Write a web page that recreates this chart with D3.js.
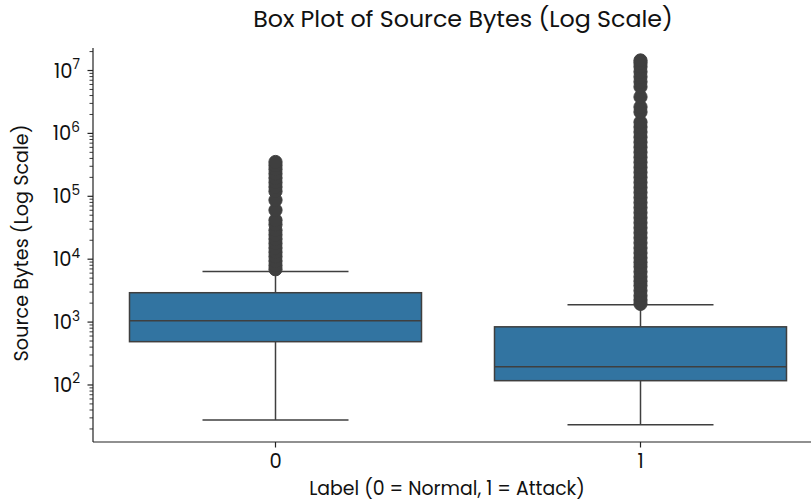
<!DOCTYPE html>
<html>
<head>
<meta charset="utf-8">
<script src="https://cdn.jsdelivr.net/npm/d3@7"></script>
<style>
  html, body { margin: 0; padding: 0; background: #fff; }
  svg { display: block; font-family: Poppins, Inter, "Open Sans", sans-serif; }
</style>
</head>
<body>
<svg id="chart" width="811" height="504"></svg>
<script>
// Categories and five-number summaries per label
const categories = ["0", "1"];
const q1Values      = [488, 117];
const medianValues  = [1050, 195];
const q3Values      = [2930, 841];
const whiskerLow    = [27.8, 23.4];
const whiskerHigh   = [6400, 1885];

// Flier values (points beyond the whiskers)
const fliersNormal = [
  6920, 7940, 9330, 11000, 12900, 15100, 17800, 20900, 24500, 28800,
  35500, 41700, 60300, 87100, 120000, 141000, 166000, 195000, 229000,
  269000, 309000, 351000
];
const fliersAttack = [
  1950, 2240, 2630, 3160, 3800, 4470, 5250, 6310, 7590, 8910,
  10500, 12600, 15100, 18200, 21900, 26300, 31600, 38000, 45700, 55000,
  66100, 79400, 95500, 115000, 138000, 166000, 200000, 240000, 288000,
  347000, 417000, 501000, 603000, 724000, 871000, 1050000, 1260000,
  1510000, 2190000, 2630000, 3800000, 5500000, 6610000, 7940000,
  9550000, 11500000, 13200000, 14450000
];
const fliers = [fliersNormal, fliersAttack];

// Y-axis tick labels (powers of ten)
const yTickExponents = [2, 3, 4, 5, 6, 7];

const titleText = "Box Plot of Source Bytes (Log Scale)";
const xLabelText = "Label (0 = Normal, 1 = Attack)";
const yLabelText = "Source Bytes (Log Scale)";

const boxes = categories.map((c, i) => ({
  cat: c, q1: q1Values[i], med: medianValues[i], q3: q3Values[i],
  lo: whiskerLow[i], hi: whiskerHigh[i], fliers: fliers[i]
}));

const svg = d3.select("#chart");
const plotLeft = 93, plotRight = 823, plotTop = 48, plotBottom = 442;
const lineColor = "#3f3f3f";
const boxColor = "#3274a1";
const tickFont = 19.5;

const x = d3.scaleBand().domain(categories).range([plotLeft, plotRight]).padding(0);
const y = d3.scaleLog().domain([12.4, 2.28e7]).range([plotBottom, plotTop]);

const bw = x.bandwidth() * 0.8;
const capW = bw / 2;
const cx = d => x(d.cat) + x.bandwidth() / 2;

const plot = svg.append("g");

// whiskers
plot.selectAll(".whisker-lo").data(boxes).join("line")
  .attr("x1", cx).attr("x2", cx)
  .attr("y1", d => y(d.q1)).attr("y2", d => y(d.lo))
  .attr("stroke", lineColor).attr("stroke-width", 1.5);
plot.selectAll(".whisker-hi").data(boxes).join("line")
  .attr("x1", cx).attr("x2", cx)
  .attr("y1", d => y(d.q3)).attr("y2", d => y(d.hi))
  .attr("stroke", lineColor).attr("stroke-width", 1.5);

// caps
plot.selectAll(".cap-lo").data(boxes).join("line")
  .attr("x1", d => cx(d) - capW / 2).attr("x2", d => cx(d) + capW / 2)
  .attr("y1", d => y(d.lo)).attr("y2", d => y(d.lo))
  .attr("stroke", lineColor).attr("stroke-width", 1.5);
plot.selectAll(".cap-hi").data(boxes).join("line")
  .attr("x1", d => cx(d) - capW / 2).attr("x2", d => cx(d) + capW / 2)
  .attr("y1", d => y(d.hi)).attr("y2", d => y(d.hi))
  .attr("stroke", lineColor).attr("stroke-width", 1.5);

// boxes
plot.selectAll(".box").data(boxes).join("rect")
  .attr("x", d => cx(d) - bw / 2).attr("width", bw)
  .attr("y", d => y(d.q3)).attr("height", d => y(d.q1) - y(d.q3))
  .attr("fill", boxColor).attr("stroke", lineColor).attr("stroke-width", 1.5);

// medians
plot.selectAll(".median").data(boxes).join("line")
  .attr("x1", d => cx(d) - bw / 2).attr("x2", d => cx(d) + bw / 2)
  .attr("y1", d => y(d.med)).attr("y2", d => y(d.med))
  .attr("stroke", lineColor).attr("stroke-width", 1.5);

// fliers
boxes.forEach(b => {
  plot.append("g").selectAll("circle").data(b.fliers).join("circle")
    .attr("cx", cx(b)).attr("cy", v => y(v)).attr("r", 6.6)
    .attr("fill", lineColor).attr("stroke", lineColor).attr("stroke-width", 1);
});

// left spine with log ticks
const yAxis = svg.append("g");
yAxis.append("line").attr("x1", plotLeft).attr("x2", plotLeft).attr("y1", plotTop).attr("y2", plotBottom)
  .attr("stroke", "#222").attr("stroke-width", 1.2);
const [d0, d1] = y.domain();
const minorTicks = [];
for (let e = 1; e <= 7; e++) {
  for (let m = 2; m <= 9; m++) {
    const v = m * Math.pow(10, e);
    if (v >= d0 && v <= d1) minorTicks.push(v);
  }
}
yAxis.selectAll(".minor").data(minorTicks).join("line")
  .attr("x1", plotLeft - 3.5).attr("x2", plotLeft)
  .attr("y1", v => y(v)).attr("y2", v => y(v))
  .attr("stroke", "#222").attr("stroke-width", 0.9);
yAxis.selectAll(".major").data(yTickExponents).join("line")
  .attr("x1", plotLeft - 5.5).attr("x2", plotLeft)
  .attr("y1", e => y(Math.pow(10, e))).attr("y2", e => y(Math.pow(10, e)))
  .attr("stroke", "#222").attr("stroke-width", 1.2);
const labels = yAxis.selectAll(".ylab").data(yTickExponents).join("text")
  .attr("x", plotLeft - 13).attr("y", e => y(Math.pow(10, e)) + 7)
  .attr("text-anchor", "end").attr("font-size", tickFont).attr("fill", "#111");
labels.append("tspan").text("10");
labels.append("tspan").attr("dy", -8.5).attr("font-size", tickFont * 0.7).text(e => e);

// bottom spine with category ticks
const xAxis = svg.append("g");
xAxis.append("line").attr("x1", plotLeft).attr("x2", plotRight).attr("y1", plotBottom).attr("y2", plotBottom)
  .attr("stroke", "#222").attr("stroke-width", 1.2);
xAxis.selectAll(".xtick").data(categories).join("line")
  .attr("x1", c => x(c) + x.bandwidth() / 2).attr("x2", c => x(c) + x.bandwidth() / 2)
  .attr("y1", plotBottom).attr("y2", plotBottom + 5.5)
  .attr("stroke", "#222").attr("stroke-width", 1.2);
xAxis.selectAll(".xlab").data(categories).join("text")
  .attr("x", c => x(c) + x.bandwidth() / 2).attr("y", 468)
  .attr("text-anchor", "middle").attr("font-size", tickFont).attr("fill", "#111")
  .text(c => c);

// fit a text element to a target width by adjusting font size
function fitWidth(sel, target) {
  const node = sel.node();
  const fs = parseFloat(sel.attr("font-size"));
  const w = node.getComputedTextLength();
  if (w > 0) sel.attr("font-size", fs * target / w);
}

const title = svg.append("text").attr("x", 463).attr("y", 27)
  .attr("text-anchor", "middle").attr("font-size", 19).attr("fill", "#111").text(titleText);
fitWidth(title, 420);

const xLabel = svg.append("text").attr("x", 447).attr("y", 495)
  .attr("text-anchor", "middle").attr("font-size", 16).attr("fill", "#111").text(xLabelText);
fitWidth(xLabel, 276);

const yLabel = svg.append("text")
  .attr("transform", "translate(28,243) rotate(-90)")
  .attr("text-anchor", "middle").attr("font-size", 16).attr("fill", "#111").text(yLabelText);
fitWidth(yLabel, 237);
</script>
</body>
</html>
